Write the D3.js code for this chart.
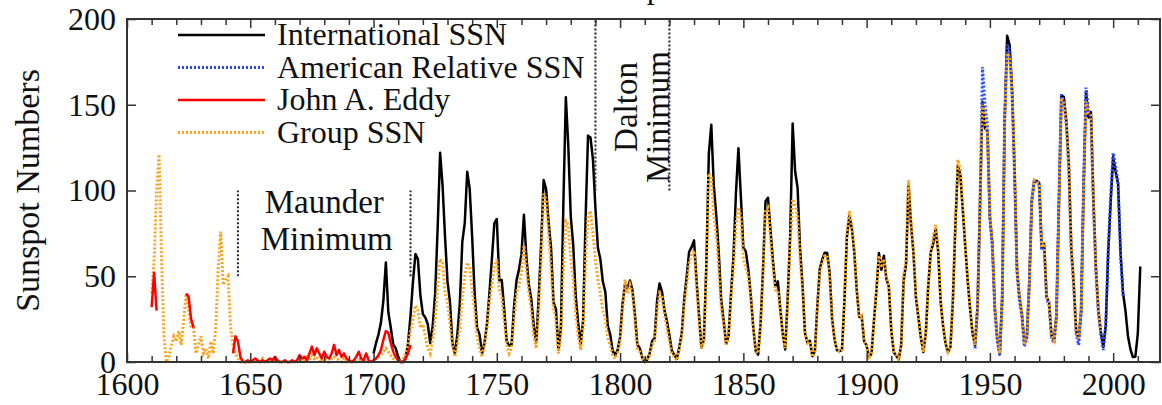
<!DOCTYPE html>
<html>
<head>
<meta charset="utf-8">
<script src="https://cdn.jsdelivr.net/npm/d3@7"></script>
<style>
  html, body { margin: 0; padding: 0; background: #fff; }
  svg { display: block; }
  text { font-family: "Liberation Serif", "DejaVu Serif", serif; fill: #111; }
</style>
</head>
<body>
<div id="chart"></div>
<script>
// International sunspot number, yearly from 1700
var issnStart = 1700;
var issn = [
    5, 11, 16, 23, 36, 58, 29, 20, 10, 8,
    3, 0, 0, 2, 11, 27, 47, 63, 60, 39,
    28, 26, 22, 11, 21, 40, 78, 122, 103, 73,
    47, 35, 11, 5, 16, 34, 70, 81, 111, 101,
    73, 40, 20, 16, 5, 11, 22, 40, 60, 80.9,
    83.4, 47.7, 47.8, 30.7, 12.2, 9.6, 10.2, 32.4, 47.6, 54,
    62.9, 85.9, 61.2, 45.1, 36.4, 20.9, 11.4, 37.8, 69.8, 106.1,
    100.8, 81.6, 66.5, 34.8, 30.6, 7, 19.8, 92.5, 154.4, 125.9,
    84.8, 68.1, 38.5, 22.8, 10.2, 24.1, 82.9, 132, 130.9, 118.1,
    89.9, 66.6, 60, 46.9, 41, 21.3, 16, 6.4, 4.1, 6.8,
    14.5, 34, 45, 43.1, 47.5, 42.2, 28.1, 10.1, 8.1, 2.5,
    0, 1.4, 5, 12.2, 13.9, 35.4, 45.8, 41.1, 30.1, 23.9,
    15.6, 6.6, 4, 1.8, 8.5, 16.6, 36.3, 49.6, 64.2, 67,
    70.9, 47.8, 27.5, 8.5, 13.2, 56.9, 121.5, 138.3, 103.2, 85.7,
    64.6, 36.7, 24.2, 10.7, 15, 40.1, 61.5, 98.5, 124.7, 96.3,
    66.6, 64.5, 54.1, 39, 20.6, 6.7, 4.3, 22.7, 54.8, 93.8,
    95.8, 77.2, 59.1, 44, 47, 30.5, 16.3, 7.3, 37.6, 74,
    139, 111.2, 101.6, 66.2, 44.7, 17, 11.3, 12.4, 3.4, 6,
    32.3, 54.3, 59.7, 63.7, 63.5, 52.2, 25.4, 13.1, 6.8, 6.3,
    7.1, 35.6, 73, 85.1, 78, 64, 41.8, 26.2, 26.7, 12.1,
    9.5, 2.7, 5, 24.4, 42, 63.5, 53.8, 62, 48.5, 43.9,
    18.6, 5.7, 3.6, 1.4, 9.6, 47.4, 57.1, 103.9, 80.6, 63.6,
    37.6, 26.1, 14.2, 5.8, 16.7, 44.3, 63.9, 69, 77.8, 64.9,
    35.7, 21.2, 11.1, 5.7, 8.7, 36.1, 79.7, 114.4, 109.6, 88.8,
    67.8, 47.5, 30.6, 16.3, 9.6, 33.2, 92.6, 151.6, 136.3, 134.7,
    83.9, 69.4, 31.5, 13.9, 4.4, 38, 141.7, 190.2, 184.8, 159,
    112.3, 53.9, 37.6, 27.9, 10.2, 15.1, 47, 93.8, 105.9, 105.5,
    104.5, 66.6, 68.9, 38, 34.5, 15.5, 12.6, 27.5, 92.5, 155.4,
    154.6, 140.4, 115.9, 66.6, 45.9, 17.9, 13.4, 29.4, 100.2, 157.6,
    142.6, 145.7, 94.3, 54.6, 29.9, 17.5, 8.6, 21.5, 64.3, 93.3,
    119.6, 111, 104, 63.7, 40.4, 29.8, 15.2, 7.5, 2.9, 3.1,
    16.5, 55.7
];

// American relative sunspot number, yearly from 1944
var amerStart = 1944;
var amer = [
    8, 30, 90, 172, 150, 138,
    85, 66, 30, 12, 4, 36, 142, 185, 182, 156,
    110, 52, 36, 26, 9, 14, 45, 95, 106, 104,
    103, 65, 68, 37, 33, 14, 11, 26, 94, 156,
    152, 138, 113, 65, 44, 16, 10, 28, 104, 160,
    146, 143, 92, 53, 29, 16, 7, 21, 66, 98,
    122, 114, 104, 62, 38
];

// John A. Eddy reconstruction (gaps = null)
var eddyYears = [
    1610, 1611, 1612, 1613,
    1624, 1625, 1626, 1627, 1628,
    1643, 1644, 1645, 1646, 1647, 1648, 1649,
    1650, 1651, 1652, 1653, 1654, 1655, 1656, 1657, 1658, 1659,
    1660, 1661, 1662, 1663, 1664, 1665, 1666, 1667, 1668, 1669,
    1670, 1671, 1672, 1673, 1674, 1675, 1676, 1677, 1678, 1679,
    1680, 1681, 1682, 1683, 1684, 1685, 1686, 1687, 1688, 1689,
    1690, 1691, 1692, 1693, 1694, 1695, 1696, 1697, 1698, 1699,
    1700, 1701, 1702, 1703, 1704, 1705, 1706, 1707, 1708, 1709,
    1710, 1711, 1712, 1713, 1714, 1715
];
var eddy = [
    32, 52, 30, null,
    40, 38, 25, 20, null,
    5, 15, 12, 3, 0, 0, 1,
    0, 1, 2, 1, 0, 1, 0, 1, 2, 1,
    3, 1, 0, 0, 1, 0, 0, 1, 0, 1,
    4, 2, 3, 1, 5, 9, 4, 8, 5, 2,
    6, 3, 2, 5, 10, 4, 7, 3, 5, 2,
    1, 0, 1, 3, 6, 2, 1, 5, 1, 0,
    1, 2, 4, 7, 13, 18, 17, 11, 6, 3,
    1, 0, 0, 2, 5, 10
];

// Group sunspot number, yearly from 1610
var groupStart = 1610;
var group = [
    40, 60, 100, 121, 60, 15, 0, 3, 10, 15,
    12, 18, 10, 25, 40, 30, 20, 20, 5, 10,
    15, 5, 8, 2, 12, 5, 20, 55, 76, 45,
    48, 50, 20, 10, 5, 2, 0, 0, 0, 0,
    0, 0, 1, 0, 0, 2, 0, 0, 1, 0,
    2, 0, 0, 0, 0, 0, 0, 0, 0, 1,
    2, 0, 1, 3, 2, 4, 2, 3, 1, 0,
    2, 1, 0, 2, 3, 2, 1, 0, 2, 0,
    1, 0, 0, 0, 1, 2, 0, 1, 0, 0,
    1, 2, 3, 4, 6, 8, 6, 4, 2, 1,
    0, 1, 2, 5, 10, 18, 25, 33, 30, 20,
    22, 15, 8, 5, 13, 25, 45, 60, 58, 40,
    35, 22, 10, 3, 10, 20, 38, 50, 58, 55,
    42, 30, 15, 8, 3, 10, 20, 35, 45, 56,
    60, 42, 38, 25, 10, 5, 8, 25, 40, 45,
    52, 68, 55, 40, 30, 15, 8, 30, 60, 98,
    95, 75, 55, 30, 25, 5, 15, 55, 82, 80,
    60, 48, 28, 15, 7, 20, 60, 85, 88, 75,
    60, 48, 40, 30, 25, 14, 10, 4, 2, 5,
    12, 30, 48, 40, 45, 40, 25, 8, 6, 2,
    0, 1, 4, 10, 12, 30, 40, 38, 28, 20,
    12, 5, 3, 1, 7, 15, 33, 45, 58, 62,
    65, 45, 25, 8, 12, 52, 110, 108, 85, 75,
    55, 32, 22, 10, 14, 38, 55, 80, 90, 85,
    60, 55, 50, 38, 20, 7, 5, 22, 52, 88,
    90, 72, 55, 42, 42, 30, 16, 8, 35, 70,
    95, 92, 85, 60, 42, 17, 11, 12, 3, 6,
    30, 52, 58, 62, 62, 50, 25, 13, 7, 6,
    7, 35, 75, 88, 80, 65, 42, 26, 27, 12,
    9, 3, 5, 24, 42, 62, 55, 60, 50, 44,
    19, 6, 4, 1.5, 10, 50, 60, 106, 82, 65,
    38, 27, 15, 6, 17, 45, 65, 72, 80, 66,
    36, 21, 11, 6, 9, 38, 82, 118, 112, 90,
    68, 48, 31, 16, 10, 34, 94, 150, 140, 134,
    85, 70, 32, 14, 5, 39, 142, 180, 178, 158,
    112, 54, 38, 28, 10, 15, 47, 94, 106, 105,
    104, 67, 69, 38, 35, 15, 12.5, 28, 93, 154,
    152, 140, 115, 67, 46, 18, 13, 30, 100, 152,
    145, 144, 94, 55, 30, 18
];

var xTicks = [1600, 1650, 1700, 1750, 1800, 1850, 1900, 1950, 2000];
var yTicks = [0, 50, 100, 150, 200];
var legendNames = ["International SSN", "American Relative SSN", "John A. Eddy", "Group SSN"];

// years where the dotted minimum markers stand
var maunderLines = [1645, 1715];
var daltonLines = [1790, 1820];

var chartW = 1162, chartH = 405;
var plotL = 127, plotR = 1160, plotT = 19, plotB = 362;

var svg = d3.select("#chart").append("svg")
    .attr("width", chartW)
    .attr("height", chartH);

var x = d3.scaleLinear().domain([1600, 2019]).range([plotL, plotR]);
var y = d3.scaleLinear().domain([0, 200]).range([plotB, plotT]);

// title, mostly cut off by the top edge
svg.append("text")
    .attr("x", 640).attr("y", -2)
    .attr("text-anchor", "middle")
    .style("font-size", "32px")
    .text("400 Years of Sunspot Observations");

// series
function series(start, vals) {
    return vals.map(function (v, i) { return { t: start + i, v: v }; });
}
var line = d3.line()
    .defined(function (d) { return d.v != null; })
    .x(function (d) { return x(d.t); })
    .y(function (d) { return y(d.v); });

var plot = svg.append("g");

plot.append("path")
    .datum(series(issnStart, issn))
    .attr("d", line)
    .attr("fill", "none")
    .attr("stroke", "#000")
    .attr("stroke-width", 2.5)
    .attr("stroke-linejoin", "round");

plot.append("path")
    .datum(series(amerStart, amer))
    .attr("d", line)
    .attr("fill", "none")
    .attr("stroke", "#2a48ff")
    .attr("stroke-width", 3)
    .attr("stroke-dasharray", "2,2");

plot.append("path")
    .datum(series(groupStart, group))
    .attr("d", line)
    .attr("fill", "none")
    .attr("stroke", "#ffa31a")
    .attr("stroke-width", 3)
    .attr("stroke-dasharray", "2,2");

plot.append("path")
    .datum(eddyYears.map(function (t, i) { return { t: t, v: eddy[i] }; }))
    .attr("d", line)
    .attr("fill", "none")
    .attr("stroke", "#ff0000")
    .attr("stroke-width", 2.5)
    .attr("stroke-linejoin", "round");

// minimum markers
function marker(t, v0, v1) {
    svg.append("line")
        .attr("x1", x(t)).attr("x2", x(t))
        .attr("y1", y(v0)).attr("y2", y(v1))
        .attr("stroke", "#222")
        .attr("stroke-width", 2)
        .attr("stroke-dasharray", "2,2");
}
maunderLines.forEach(function (t) { marker(t, 50, 100); });
daltonLines.forEach(function (t) { marker(t, 100, 200); });

svg.append("text")
    .attr("x", x(1680)).attr("y", 213)
    .attr("text-anchor", "middle")
    .style("font-size", "33px")
    .text("Maunder");
svg.append("text")
    .attr("x", x(1681)).attr("y", 250)
    .attr("text-anchor", "middle")
    .style("font-size", "33px")
    .text("Minimum");

svg.append("text")
    .attr("transform", "translate(637,107) rotate(-90)")
    .attr("text-anchor", "middle")
    .style("font-size", "33px")
    .text("Dalton");
svg.append("text")
    .attr("transform", "translate(669,117) rotate(-90)")
    .attr("text-anchor", "middle")
    .style("font-size", "33px")
    .text("Minimum");

// axes: ticks point inward, frame drawn separately
function styleAxis(g) {
    g.select(".domain").remove();
    g.selectAll(".tick line").attr("stroke", "#333").attr("stroke-width", 1.5);
    g.selectAll(".tick text")
        .style("font-family", "'Liberation Serif', serif")
        .style("font-size", "32px")
        .attr("fill", "#111");
}
var minor = d3.range(1610, 2020, 10).filter(function (t) { return t % 50 != 0; });

svg.append("g").attr("transform", "translate(0," + plotB + ")")
    .call(d3.axisBottom(x).tickValues(xTicks).tickFormat(d3.format("d")).tickSize(-9))
    .call(styleAxis)
    .selectAll(".tick text").attr("y", 0).attr("dy", "33px");
svg.append("g").attr("transform", "translate(0," + plotB + ")")
    .call(d3.axisBottom(x).tickValues(minor).tickFormat("").tickSize(-6))
    .call(styleAxis);
svg.append("g").attr("transform", "translate(0," + plotT + ")")
    .call(d3.axisTop(x).tickValues(xTicks).tickFormat("").tickSize(-9))
    .call(styleAxis);
svg.append("g").attr("transform", "translate(0," + plotT + ")")
    .call(d3.axisTop(x).tickValues(minor).tickFormat("").tickSize(-6))
    .call(styleAxis);
svg.append("g").attr("transform", "translate(" + plotL + ",0)")
    .call(d3.axisLeft(y).tickValues(yTicks).tickSize(-9))
    .call(styleAxis)
    .selectAll(".tick text").attr("x", -11);
svg.append("g").attr("transform", "translate(" + plotR + ",0)")
    .call(d3.axisRight(y).tickValues(yTicks).tickFormat("").tickSize(-9))
    .call(styleAxis);

svg.append("rect")
    .attr("x", plotL).attr("y", plotT)
    .attr("width", plotR - plotL).attr("height", plotB - plotT)
    .attr("fill", "none")
    .attr("stroke", "#333")
    .attr("stroke-width", 2);

svg.append("text")
    .attr("transform", "translate(39," + ((plotT + plotB) / 2) + ") rotate(-90)")
    .attr("text-anchor", "middle")
    .style("font-size", "34px")
    .text("Sunspot Numbers");

// legend
var legendStyles = [
    { color: "#000", dash: null, w: 2.5 },
    { color: "#2a48ff", dash: "2,2", w: 3 },
    { color: "#ff0000", dash: null, w: 2.5 },
    { color: "#ffa31a", dash: "2,2", w: 3 }
];
var legend = svg.append("g");
legendNames.forEach(function (name, i) {
    var ly = 35 + i * 32.5;
    legend.append("line")
        .attr("x1", 178).attr("x2", 265)
        .attr("y1", ly).attr("y2", ly)
        .attr("stroke", legendStyles[i].color)
        .attr("stroke-width", legendStyles[i].w)
        .attr("stroke-dasharray", legendStyles[i].dash);
    legend.append("text")
        .attr("x", 277).attr("y", ly + 10)
        .style("font-size", "32px")
        .text(name);
});
</script>
</body>
</html>
